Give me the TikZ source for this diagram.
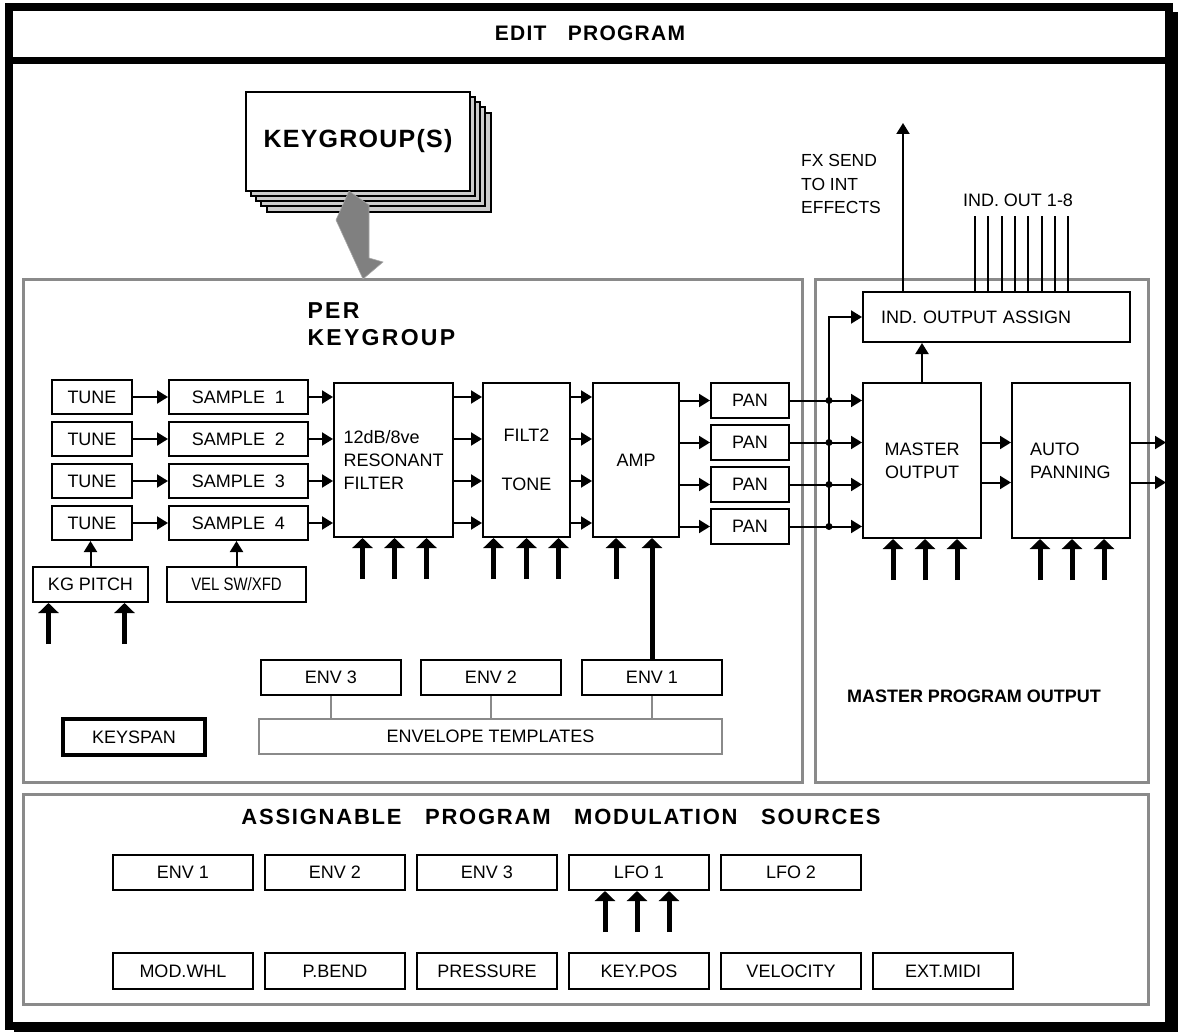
\documentclass[tikz,border=0pt]{standalone}
\usepackage{fontspec}
\setmainfont{Liberation Sans}
\newfontfamily\narrowfont[FakeStretch=0.83]{Liberation Sans}
\usepackage{tikz}
\usetikzlibrary{arrows.meta, positioning, calc}
\definecolor{cPanel}{RGB}{138,138,138}
\definecolor{cFlow}{RGB}{128,128,128}
\newcommand{\lblfont}{\fontsize{18}{23}\selectfont}
\newcommand{\headfont}[1]{\fontsize{#1}{#1}\selectfont\bfseries}
\tikzset{
    block/.style  ={rectangle, draw=black, line width=2pt, fill=white, inner sep=0pt, align=center, font=\lblfont},
    tunebox/.style={block, minimum width=80pt, minimum height=34pt},
    sampbox/.style={block, minimum width=139pt, minimum height=34pt},
    tallbox/.style={block, minimum height=155pt},
    panbox/.style ={block, minimum width=78pt, minimum height=35pt},
    envbox/.style ={block, minimum width=140pt, minimum height=35pt},
    srcbox/.style ={block, minimum width=140pt, minimum height=35pt},
    panel/.style  ={draw=cPanel, line width=3pt},
    sig/.style    ={-{Triangle[length=11pt,width=13pt]}, line width=2pt},
    modin/.style  ={-{Triangle[length=10pt,width=20pt]}, line width=5pt},
    tie/.style    ={draw=cPanel, line width=2pt},
    busdot/.style ={circle, fill=black, inner sep=0pt, minimum size=7pt},
}

\begin{document}
\begin{tikzpicture}[x=1pt, y=-1pt, node distance=6pt]
\useasboundingbox (0,0) rectangle (1178,1032);
% outer frame
\fill[black] (14,12) rectangle (1178,1032);
\draw[line width=8pt, fill=white] (9,7) rectangle (1169,1026);
\draw[line width=7pt] (5,60.5) -- (1173,60.5);
\node[font={\headfont{21}\addfontfeatures{LetterSpace=6}}] (title) at (590,33) {EDIT\ \ \ PROGRAM};

% panels
\draw[panel] (23,280) rectangle (802,782);
\draw[panel] (815,280) rectangle (1148,782);
\draw[panel] (23,794) rectangle (1148,1004);

% keygroup stack
\foreach \d in {21,15,10,5}
    \draw[line width=1.5pt, fill=gray!40] (246+\d,92+\d) rectangle (470+\d,191+\d);
\node[block, line width=2.5pt, minimum width=224pt, minimum height=99pt,
      font={\headfont{25}\addfontfeatures{LetterSpace=5}}] (kg) at (358,141.5) {KEYGROUP(S)};
\fill[cFlow, draw=gray!70, line width=0.6pt] (349,191) -- (369,205) -- (369,258) -- (383,262) -- (363,279) -- (336,220) -- cycle;

% per keygroup
\node[anchor=west, align=left, font={\headfont{23}\addfontfeatures{LetterSpace=10}}] (pklbl) at (304,324.5) {PER\\[4pt]KEYGROUP};

\node[tunebox] (t1) at (92,397) {TUNE};
\node[tunebox, below=of t1] (t2) {TUNE};
\node[tunebox, below=of t2] (t3) {TUNE};
\node[tunebox, below=of t3] (t4) {TUNE};
\node[sampbox, right=35pt of t1] (s1) {SAMPLE\ \ 1};
\node[sampbox, right=35pt of t2] (s2) {SAMPLE\ \ 2};
\node[sampbox, right=35pt of t3] (s3) {SAMPLE\ \ 3};
\node[sampbox, right=35pt of t4] (s4) {SAMPLE\ \ 4};

\node[tallbox, minimum width=119pt, minimum height=154pt, text width=100pt, align=left] (filt) at (393.5,460) {12dB/8ve\\RESONANT\\FILTER};
\node[tallbox, minimum width=87pt, minimum height=154pt] (f2) at (526.5,460) {FILT2\\[26pt]TONE};
\node[tallbox, minimum width=86pt, minimum height=154pt] (amp) at (636,460) {AMP};

\node[panbox] (p1) at (750,400.5) {PAN};
\node[panbox, below=5pt of p1] (p2) {PAN};
\node[panbox, below=5pt of p2] (p3) {PAN};
\node[panbox, below=5pt of p3] (p4) {PAN};

\node[block, minimum width=115pt, minimum height=35pt] (kgp) at (90.5,584.5) {KG PITCH};
\node[block, minimum width=139pt, minimum height=35pt, font=\narrowfont\lblfont] (vel) at (236.5,584.5) {VEL SW/XFD};

\node[envbox] (e3) at (331,677.5) {ENV 3};
\node[envbox] (e2) at (491,677.5) {ENV 2};
\node[envbox] (e1) at (652,677.5) {ENV 1};
\node[block, draw=cPanel, minimum width=463pt, minimum height=35pt] (tmpl) at (490.5,736.5) {ENVELOPE TEMPLATES};
\node[block, line width=4pt, minimum width=142pt, minimum height=36pt] (keyspan) at (134,737) {KEYSPAN};

% master program output
\node[tallbox, minimum width=118pt] (master) at (922,460.5) {MASTER\\OUTPUT};
\node[tallbox, minimum width=118pt, text width=82pt, align=left] (auto) at (1071,460.5) {AUTO\\PANNING};
\node[block, minimum width=267pt, minimum height=50pt, text width=231pt, align=left] (ind) at (996.5,317) {IND. OUTPUT ASSIGN};
\node[font=\headfont{18}] (mpo) at (974,696) {MASTER PROGRAM OUTPUT};
\node[align=left, font=\fontsize{17.5}{23.5}\selectfont] (fxlbl) at (841,184) {FX SEND\\TO INT\\EFFECTS};
\node[font=\lblfont] (indlbl) at (1018,200) {IND. OUT 1-8};

% modulation sources
\node[font={\headfont{22}\addfontfeatures{LetterSpace=8}}] (srclbl) at (561,817) {ASSIGNABLE\ \ \ PROGRAM\ \ \ MODULATION\ \ \ SOURCES};
\node[srcbox] (m1) at (183,872.5) {ENV 1};
\node[srcbox, right=10pt of m1] (m2) {ENV 2};
\node[srcbox, right=10pt of m2] (m3) {ENV 3};
\node[srcbox, right=10pt of m3] (lfo1) {LFO 1};
\node[srcbox, right=10pt of lfo1] (lfo2) {LFO 2};
\node[srcbox, minimum height=36pt] (modwhl) at (183,971) {MOD.WHL};
\node[srcbox, minimum height=36pt, right=10pt of modwhl] (pbend) {P.BEND};
\node[srcbox, minimum height=36pt, right=10pt of pbend] (press) {PRESSURE};
\node[srcbox, minimum height=36pt, right=10pt of press] (keypos) {KEY.POS};
\node[srcbox, minimum height=36pt, right=10pt of keypos] (velo) {VELOCITY};
\node[srcbox, minimum height=36pt, right=10pt of velo] (extmidi) {EXT.MIDI};

% signal flow
\draw[sig] (t1) -- (s1);
\draw[sig] (t2) -- (s2);
\draw[sig] (t3) -- (s3);
\draw[sig] (t4) -- (s4);
\draw[sig] (s1) -- (s1 -| filt.west);
\draw[sig] (s2) -- (s2 -| filt.west);
\draw[sig] (s3) -- (s3 -| filt.west);
\draw[sig] (s4) -- (s4 -| filt.west);
\draw[sig] (filt.east |- s1) -- (f2.west |- s1);
\draw[sig] (filt.east |- s2) -- (f2.west |- s2);
\draw[sig] (filt.east |- s3) -- (f2.west |- s3);
\draw[sig] (filt.east |- s4) -- (f2.west |- s4);
\draw[sig] (f2.east |- s1) -- (amp.west |- s1);
\draw[sig] (f2.east |- s2) -- (amp.west |- s2);
\draw[sig] (f2.east |- s3) -- (amp.west |- s3);
\draw[sig] (f2.east |- s4) -- (amp.west |- s4);
\draw[sig] (amp.east |- p1) -- (p1);
\draw[sig] (amp.east |- p2) -- (p2);
\draw[sig] (amp.east |- p3) -- (p3);
\draw[sig] (amp.east |- p4) -- (p4);
\draw[sig] (kgp) -- (kgp |- t4.south);
\draw[sig] (vel) -- (vel |- s4.south);

% bus into master / ind. output
\coordinate (bus) at (829,317);
\node[busdot] (d1) at (bus |- p1) {};
\node[busdot] (d2) at (bus |- p2) {};
\node[busdot] (d3) at (bus |- p3) {};
\node[busdot] (d4) at (bus |- p4) {};
\draw[sig] (p1) -- (master.west |- p1);
\draw[sig] (p2) -- (master.west |- p2);
\draw[sig] (p3) -- (master.west |- p3);
\draw[sig] (p4) -- (master.west |- p4);
\draw[sig] (d4.center) -- (bus) -- (ind.west);
\draw[sig] (master.north) -- (master.north |- ind.south);
\draw[sig] ($(master.east)+(0,-18)$) -- ($(auto.west)+(0,-18)$);
\draw[sig] ($(master.east)+(0,22)$) -- ($(auto.west)+(0,22)$);
\coordinate (out1) at (1166,442.5);
\coordinate (out2) at (1166,482.5);
\draw[sig] (auto.east |- out1) -- (out1);
\draw[sig] (auto.east |- out2) -- (out2);
\coordinate (fx) at (903,123);
\draw[sig] (ind.north -| fx) -- (fx);
\foreach \k in {0,...,7}
    \draw[line width=2pt] ($(ind.north)+(-21.5+13.33*\k,0)$) -- ++(0,-75);

% modulation inputs
\foreach \dx in {-31,1,33}
    \draw[modin] ($(filt.south)+(\dx,41)$) -- ++(0,-41);
\foreach \dx in {-33,0,32}
    \draw[modin] ($(f2.south)+(\dx,41)$) -- ++(0,-41);
\draw[modin] ($(amp.south)+(-20,41)$) -- ++(0,-41);
\draw[modin] (e1) -- (e1 |- amp.south);
\foreach \dx in {-29,3,35}
    \draw[modin] ($(master.south)+(\dx,41)$) -- ++(0,-41);
\foreach \dx in {-31,1,33}
    \draw[modin] ($(auto.south)+(\dx,41)$) -- ++(0,-41);
\draw[modin] ($(kgp.south)+(-42,41)$) -- ++(0,-41);
\draw[modin] ($(kgp.south)+(34,41)$) -- ++(0,-41);
\foreach \dx in {-34,-2,30}
    \draw[modin] ($(lfo1.south)+(\dx,41)$) -- ++(0,-41);

% envelope templates
\draw[tie] (e3) -- (e3 |- tmpl.north);
\draw[tie] (e2) -- (e2 |- tmpl.north);
\draw[tie] (e1) -- (e1 |- tmpl.north);
\end{tikzpicture}
\end{document}
